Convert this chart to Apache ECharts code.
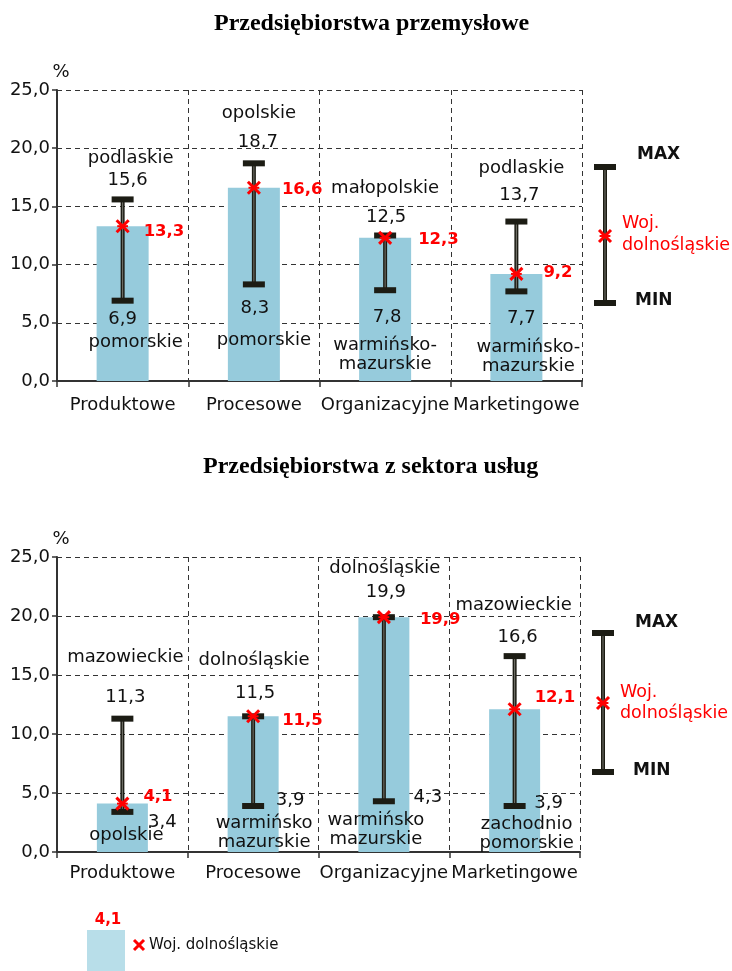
<!DOCTYPE html>
<html>
<head>
<meta charset="utf-8">
<script src="https://cdn.jsdelivr.net/npm/echarts@6/dist/echarts.min.js"></script>
<style>html,body{margin:0;padding:0;background:#fff}#c{width:732px;height:971px}</style>
</head>
<body>
<div id="c"></div>
<script>
// ---------- DATA ----------
const categories = ['Produktowe', 'Procesowe', 'Organizacyjne', 'Marketingowe'];
const titleIndustry = 'Przedsiębiorstwa przemysłowe';
const titleServices = 'Przedsiębiorstwa z sektora usług';

const indValues = [13.3, 16.6, 12.3, 9.2];
const indMax = [15.6, 18.7, 12.5, 13.7];
const indMin = [6.9, 8.3, 7.8, 7.7];
const indMaxRegion = ['podlaskie', 'opolskie', 'małopolskie', 'podlaskie'];
const indMinRegion = ['pomorskie', 'pomorskie', 'warmińsko-\nmazurskie', 'warmińsko-\nmazurskie'];

const svcValues = [4.1, 11.5, 19.9, 12.1];
const svcMax = [11.3, 11.5, 19.9, 16.6];
const svcMin = [3.4, 3.9, 4.3, 3.9];
const svcMaxRegion = ['mazowieckie', 'dolnośląskie', 'dolnośląskie', 'mazowieckie'];
const svcMinRegion = ['opolskie', 'warmińsko\nmazurskie', 'warmińsko\nmazurskie', 'zachodnio\npomorskie'];

const yMin = 0, yMax = 25, yStep = 5;
const legendRegion = 'Woj. dolnośląskie';
const legendSample = 4.1;

// ---------- LAYOUT (label offsets in px, relative to bar centre / whisker end) ----------
// [maxName dx,dy, maxVal dx,dy, minVal dx,dy, minName dx,dy, red dx,dy]
const indLabelOffsets = [
  [8, -41, 5, -19, 0, 19, 13, 42, 21, 6],
  [5, -50, 4, -21, 1, 24, 10, 56, 28, 2],
  [0, -47, 1, -18, 2, 27, 0, 55, 33, 2],
  [5, -53, 3, -26, 5, 27, 12, 56, 27, -1]
];
const svcLabelOffsets = [
  [3, -61, 3, -21, 40, 10, 4, 23, 21, -7],
  [1, -56, 2, -23, 37, -6, 11, 17, 29, 4],
  [1, -49, 2, -25, 44, -4, -8, 19, 36, 3],
  [-1, -51, 3, -19, 34, -3, 12, 18, 20, -12]
];

const FONT = 'DejaVu Sans';
const FS = 18;
const BAR = '#96cbdc';
const DARK = '#1c1c14';
const RED = '#ff0000';

function fmt(v) { return v.toFixed(1).replace('.', ','); }

function starLines(cx, cy, r) {
  const st = { stroke: RED, lineWidth: 3 };
  return [
    { type: 'line', shape: { x1: cx - r, y1: cy - r, x2: cx + r, y2: cy + r }, style: st },
    { type: 'line', shape: { x1: cx + r, y1: cy - r, x2: cx - r, y2: cy + r }, style: st },
    { type: 'line', shape: { x1: cx - r * 0.9, y1: cy, x2: cx + r * 0.9, y2: cy }, style: { stroke: RED, lineWidth: 2 } }
  ];
}

function whiskerShapes(x, yTop, yBot) {
  const capW = 22, capH = 6;
  return [
    { type: 'rect', shape: { x: x - 2, y: yTop, width: 4, height: yBot - yTop }, style: { fill: DARK } },
    { type: 'line', shape: { x1: x, y1: yTop, x2: x, y2: yBot }, style: { stroke: '#77776f', lineWidth: 1 } },
    { type: 'rect', shape: { x: x - capW / 2, y: yTop - capH / 2, width: capW, height: capH }, style: { fill: DARK } },
    { type: 'rect', shape: { x: x - capW / 2, y: yBot - capH / 2, width: capW, height: capH }, style: { fill: DARK } }
  ];
}

function errorRender(params, api) {
  const i = api.value(0);
  const lo = api.coord([i, api.value(1)]);
  const hi = api.coord([i, api.value(2)]);
  return { type: 'group', children: whiskerShapes(hi[0], hi[1], lo[1]) };
}

function makeLabelRender(offsets, maxNames, minNames) {
  return function (params, api) {
    const i = api.value(0);
    const lo = api.coord([i, api.value(1)]);
    const hi = api.coord([i, api.value(2)]);
    const o = offsets[params.dataIndex];
    const base = { fontFamily: FONT, fontSize: FS, fill: '#111', align: 'center', verticalAlign: 'middle' };
    const lh = 19;
    return {
      type: 'group', children: [
        { type: 'text', x: hi[0] + o[0], y: hi[1] + o[1], style: Object.assign({}, base, { text: maxNames[params.dataIndex] }) },
        { type: 'text', x: hi[0] + o[2], y: hi[1] + o[3], style: Object.assign({}, base, { text: fmt(api.value(2)) }) },
        { type: 'text', x: lo[0] + o[4], y: lo[1] + o[5], style: Object.assign({}, base, { text: fmt(api.value(1)) }) },
        { type: 'text', x: lo[0] + o[6], y: lo[1] + o[7] - lh / 2, style: Object.assign({}, base, { text: minNames[params.dataIndex], verticalAlign: 'top', lineHeight: lh }) }
      ]
    };
  };
}

function makeMarkerRender(offsets) {
  return function (params, api) {
    const i = api.value(0);
    const p = api.coord([i, api.value(1)]);
    const o = offsets[params.dataIndex];
    return {
      type: 'group', children: starLines(p[0], p[1], 6).concat([
        { type: 'text', x: p[0] + o[8], y: p[1] + o[9], style: { text: fmt(api.value(1)), fontFamily: FONT, fontWeight: 'bold', fontSize: 16.5, fill: RED, align: 'left', verticalAlign: 'middle' } }
      ])
    };
  };
}

function legendBlock(x, yTop, yBot, yStar, maxY, minY, wojY, dolY) {
  const els = whiskerShapes(x, yTop, yBot);
  starLines(x, yStar, 6).forEach(e => els.push(e));
  els.push({ type: 'text', x: x + 32, y: maxY, style: { text: 'MAX', fontFamily: FONT, fontWeight: 'bold', fontSize: 17, fill: '#111', verticalAlign: 'middle' } });
  els.push({ type: 'text', x: x + 30, y: minY, style: { text: 'MIN', fontFamily: FONT, fontWeight: 'bold', fontSize: 17, fill: '#111', verticalAlign: 'middle' } });
  els.push({ type: 'text', x: x + 17, y: wojY, style: { text: 'Woj.', fontFamily: FONT, fontSize: 17.5, fill: RED, verticalAlign: 'middle' } });
  els.push({ type: 'text', x: x + 17, y: dolY, style: { text: 'dolnośląskie', fontFamily: FONT, fontSize: 17.5, fill: RED, verticalAlign: 'middle' } });
  return els;
}

function xAxisDef(gi, margin) {
  return {
    type: 'category', gridIndex: gi, data: categories,
    axisLine: { lineStyle: { color: '#333', width: 2 } },
    axisTick: { show: true, alignWithLabel: false, length: 6, lineStyle: { color: '#333', width: 1.5 } },
    axisLabel: { fontFamily: FONT, fontSize: FS, color: '#111', margin: margin, interval: 0 },
    splitLine: { show: true, lineStyle: { type: [5, 4], color: '#333', width: 1 } }
  };
}
function yAxisDef(gi) {
  return {
    type: 'value', gridIndex: gi, min: yMin, max: yMax, interval: yStep,
    name: '%', nameLocation: 'end', nameGap: 3,
    nameTextStyle: { fontFamily: FONT, fontSize: FS, color: '#111', padding: [0, 0, 0, 8] },
    axisLine: { show: true, lineStyle: { color: '#333', width: 2 } },
    axisTick: { show: true, length: 5, lineStyle: { color: '#333', width: 1.5 } },
    axisLabel: { fontFamily: FONT, fontSize: FS, color: '#111', margin: 7, formatter: v => fmt(v) },
    splitLine: { show: true, lineStyle: { type: [5, 4], color: '#333', width: 1 } }
  };
}

const idx = categories.map((c, i) => i);

const chart = echarts.init(document.getElementById('c'), null, { renderer: 'canvas' });
chart.setOption({
  animation: false,
  backgroundColor: '#fff',
  title: [
    { text: titleIndustry, left: 209, top: 7, textStyle: { fontFamily: 'Liberation Serif', fontWeight: 'bold', fontSize: 24, color: '#000' } },
    { text: titleServices, left: 198, top: 450, textStyle: { fontFamily: 'Liberation Serif', fontWeight: 'bold', fontSize: 24, color: '#000' } }
  ],
  grid: [
    { left: 57, right: 150, top: 90, bottom: 590 },
    { left: 57, right: 152, top: 557, bottom: 119 }
  ],
  xAxis: [xAxisDef(0, 15), xAxisDef(1, 12)],
  yAxis: [yAxisDef(0), yAxisDef(1)],
  series: [
    { type: 'bar', xAxisIndex: 0, yAxisIndex: 0, data: indValues, barWidth: 52, itemStyle: { color: BAR }, z: 2 },
    { type: 'custom', xAxisIndex: 0, yAxisIndex: 0, data: idx.map(i => [i, indMin[i], indMax[i]]), encode: { x: 0, y: [1, 2] }, renderItem: errorRender, z: 3 },
    { type: 'custom', xAxisIndex: 0, yAxisIndex: 0, data: idx.map(i => [i, indMin[i], indMax[i]]), encode: { x: 0, y: [1, 2] }, renderItem: makeLabelRender(indLabelOffsets, indMaxRegion, indMinRegion), z: 4 },
    { type: 'custom', xAxisIndex: 0, yAxisIndex: 0, data: idx.map(i => [i, indValues[i]]), encode: { x: 0, y: 1 }, renderItem: makeMarkerRender(indLabelOffsets), z: 5 },

    { type: 'bar', xAxisIndex: 1, yAxisIndex: 1, data: svcValues, barWidth: 51, itemStyle: { color: BAR }, z: 2 },
    { type: 'custom', xAxisIndex: 1, yAxisIndex: 1, data: idx.map(i => [i, svcMin[i], svcMax[i]]), encode: { x: 0, y: [1, 2] }, renderItem: errorRender, z: 3 },
    { type: 'custom', xAxisIndex: 1, yAxisIndex: 1, data: idx.map(i => [i, svcMin[i], svcMax[i]]), encode: { x: 0, y: [1, 2] }, renderItem: makeLabelRender(svcLabelOffsets, svcMaxRegion, svcMinRegion), z: 4 },
    { type: 'custom', xAxisIndex: 1, yAxisIndex: 1, data: idx.map(i => [i, svcValues[i]]), encode: { x: 0, y: 1 }, renderItem: makeMarkerRender(svcLabelOffsets), z: 5 }
  ],
  graphic: [
    { type: 'group', children: legendBlock(605, 167, 303, 236, 155, 301, 223, 245) },
    { type: 'group', children: legendBlock(603, 633, 772, 703, 623, 771, 692, 713) },
    { type: 'group', children: [
      { type: 'rect', shape: { x: 87, y: 930, width: 38, height: 41 }, style: { fill: '#b8dee9' } },
      { type: 'text', x: 108, y: 920, style: { text: fmt(legendSample), fontFamily: FONT, fontWeight: 'bold', fontSize: 15, fill: RED, align: 'center', verticalAlign: 'middle' } },
      { type: 'line', shape: { x1: 134, y1: 940, x2: 144, y2: 950 }, style: { stroke: RED, lineWidth: 3 } },
      { type: 'line', shape: { x1: 144, y1: 940, x2: 134, y2: 950 }, style: { stroke: RED, lineWidth: 3 } },
      { type: 'text', x: 149, y: 945, style: { text: legendRegion, fontFamily: FONT, fontSize: 15, fill: '#111', verticalAlign: 'middle' } }
    ] }
  ]
});
</script>
</body>
</html>
